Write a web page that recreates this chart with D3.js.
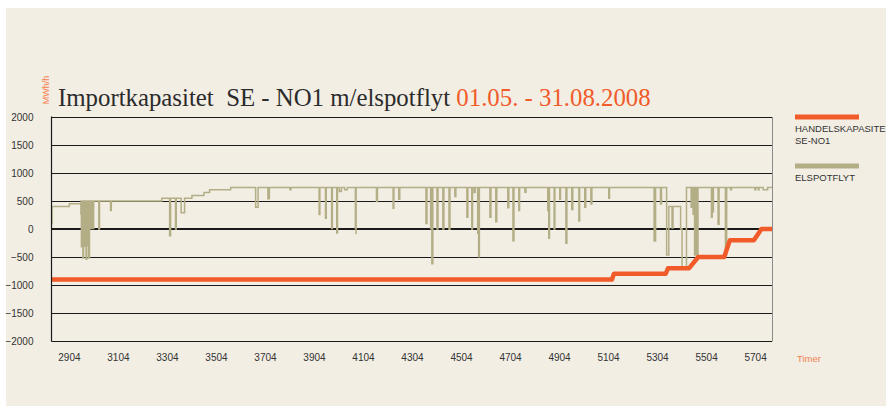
<!DOCTYPE html>
<html><head><meta charset="utf-8">
<script src="https://cdn.jsdelivr.net/npm/d3@7"></script>
<style>
html,body{margin:0;padding:0;background:#ffffff;}
svg{display:block;}
</style></head>
<body>
<svg id="chart" width="886" height="414"></svg>
<script>
// ---- data ----
const xTickValues = [2904, 3104, 3304, 3504, 3704, 3904, 4104, 4304, 4504, 4704, 4904, 5104, 5304, 5504, 5704];
const yTickValues = [2000, 1500, 1000, 500, 0, -500, -1000, -1500, -2000];
const hourRange = [2833, 5773];

// HANDELSKAPASITET SE-NO1 : [hour, MWh/h]
const capacityHours  = [2833, 5120, 5128, 5339, 5349, 5435, 5472, 5578, 5601, 5699, 5730, 5773];
const capacityValues = [-900, -900, -800, -800, -700, -700, -500, -500, -200, -200, 0, 0];

// ELSPOTFLYT base levels: [start hour, MWh/h]
const flowLevels = [
  [2833, 100], [2835, 400], [2906, 450], [2954, 500], [3283, 550], [3406, 600],
  [3455, 650], [3478, 700], [3564, 740],
  [5343, -464], [5352, 400], [5400, 0], [5406, -673], [5424, 740]
];
// ELSPOTFLYT short dips: [hour, MWh/h, duration hours]
const flowDips = [
  [2953, 270, 2], [2955, -330, 3], [2961, -520, 3], [2967, -310, 3], [2974, -540, 3], [2980, -290, 3], [2985, -520, 3],
  [2994, 10, 3], [3002, 10, 3], [3026, 0, 3], [3074, 330, 3],
  [3315, -120, 4], [3339, 0, 3], [3362, 290, 14],
  [3666, 390, 10], [3716, 540, 6], [3806, 700, 4],
  [3925, 260, 3], [3951, 190, 3], [3976, 10, 3], [3997, -70, 3], [4008, 670, 8], [4029, 700, 11],
  [4073, 10, 3], [4076, -95, 3], [4159, 490, 4], [4227, 370, 3], [4250, 530, 4],
  [4361, 100, 4], [4380, 10, 3], [4385, -620, 4], [4406, 0, 4], [4430, 0, 4], [4455, -5, 4],
  [4479, 580, 4], [4528, 210, 4], [4548, 0, 3], [4558, 650, 4], [4572, -77, 2], [4576, -495, 3],
  [4622, 210, 4], [4646, 130, 4], [4695, 380, 4], [4716, -210, 4], [4740, 330, 3], [4765, 655, 4],
  [4858, 330, 2], [4862, -166, 3], [4884, 0, 3], [4907, 530, 3], [4932, -255, 4], [4956, 350, 4],
  [4985, 143, 3], [5009, 390, 4], [5034, 446, 4], [5107, 548, 3],
  [5292, -214, 6], [5318, 446, 4], [5365, 20, 4],
  [5443, 388, 3], [5451, 262, 3], [5457, -464, 4], [5462, -300, 3], [5466, -464, 5],
  [5526, 210, 3], [5531, 310, 3], [5553, 84, 4], [5583, -464, 5], [5604, 700, 4],
  [5703, 700, 4], [5717, 700, 3], [5737, 700, 18]
];

const titleMain = "Importkapasitet  SE - NO1 m/elspotflyt";
const titleDate = "01.05. - 31.08.2008";
const unitLabel = "MWh/h";
const xAxisLabel = "Timer";
const legendItems = [
  {lines: ["HANDELSKAPASITET", "SE-NO1"], color: "#f15a29"},
  {lines: ["ELSPOTFLYT"], color: "#b3ae86"}
];

// ---- drawing ----
(function () {
const svg = d3.select("#chart");
const W = 886;
const bg = "#f2eee4";
const orange = "#f15a29";
const olive = "#b3ae86";

svg.append("rect").attr("x", 6).attr("y", 8).attr("width", W - 6).attr("height", 398).attr("fill", bg);

const pL = 51.5, pR = 772, pT = 117, pB = 341;
const x = d3.scaleLinear().domain(hourRange).range([pL, pR]);
const y = d3.scaleLinear().domain([-2000, 2000]).range([pB, pT]);

// grid lines
svg.append("g").selectAll("line").data(yTickValues).join("line")
  .attr("x1", pL).attr("x2", pR)
  .attr("y1", d => Math.round(y(d)) + (d === 0 ? 0 : 0.5))
  .attr("y2", d => Math.round(y(d)) + (d === 0 ? 0 : 0.5))
  .attr("stroke", "#1a1a1a")
  .attr("stroke-width", d => d === 0 ? 2 : 1);

// right border
svg.append("line").attr("x1", pR + 0.5).attr("x2", pR + 0.5).attr("y1", pT).attr("y2", pB + 0.5)
  .attr("stroke", "#8c8c8c").attr("stroke-width", 1);

// build elspot series
function levelAt(h) {
  let v = flowLevels[0][1];
  for (const [s, val] of flowLevels) if (s <= h) v = val;
  return v;
}
const flowPts = [];
flowLevels.forEach(([h, v]) => flowPts.push({h, v, o: 0}));
flowDips.forEach(([h, v, d]) => {
  flowPts.push({h, v, o: 1});
  flowPts.push({h: h + d, v: levelAt(h + d), o: 2});
});
flowPts.sort((a, b) => a.h - b.h || a.o - b.o);
flowPts.push({h: hourRange[1], v: levelAt(hourRange[1])});

svg.append("path")
  .datum(flowPts)
  .attr("fill", "none")
  .attr("stroke", olive)
  .attr("stroke-width", 1.5)
  .attr("d", d3.line().x(d => x(d.h)).y(d => y(d.v)).curve(d3.curveStepAfter));

// capacity line
const capData = capacityHours.map((h, i) => ({h, v: capacityValues[i]}));
svg.append("path")
  .datum(capData)
  .attr("fill", "none")
  .attr("stroke", orange)
  .attr("stroke-width", 4.5)
  .attr("stroke-linejoin", "round")
  .attr("d", d3.line().x(d => x(d.h)).y(d => y(d.v)));

// left axis line
svg.append("line").attr("x1", pL).attr("x2", pL).attr("y1", pT - 0.5).attr("y2", pB + 0.5)
  .attr("stroke", "#1a1a1a").attr("stroke-width", 1.2);

// axes labels
const yAxis = d3.axisLeft(y).tickValues(yTickValues).tickSize(0).tickPadding(18).tickFormat(d3.format("d"));
const gy = svg.append("g").attr("transform", `translate(${pL},0)`).call(yAxis);
gy.select(".domain").remove();
gy.selectAll("text").attr("font-family", "Liberation Sans, Arial, sans-serif").attr("font-size", 10).attr("fill", "#333");

const xAxis = d3.axisBottom(x).tickValues(xTickValues).tickSize(0).tickPadding(13).tickFormat(d3.format("d"));
const gx = svg.append("g").attr("transform", `translate(0,${pB})`).call(xAxis);
gx.select(".domain").remove();
gx.selectAll("text").attr("font-family", "Liberation Sans, Arial, sans-serif").attr("font-size", 10).attr("fill", "#333");

svg.append("text").attr("x", 797).attr("y", 361.5)
  .attr("font-family", "Liberation Sans, Arial, sans-serif").attr("font-size", 9.5)
  .attr("fill", "#f4804f").text(xAxisLabel);

// unit label (rotated)
svg.append("text")
  .attr("transform", "translate(49,90) rotate(-90)")
  .attr("text-anchor", "middle")
  .attr("font-family", "Liberation Sans, Arial, sans-serif").attr("font-size", 9)
  .attr("fill", "#f4804f").text(unitLabel);

// title
const title = svg.append("text").attr("x", 58).attr("y", 106)
  .attr("font-family", "Liberation Serif, Times New Roman, serif").attr("font-size", 22)
  .attr("fill", "#2b2b2b").style("white-space", "pre");
title.append("tspan").text(titleMain + " ");
title.append("tspan").attr("fill", orange).text(titleDate);
const tl = title.node().getComputedTextLength();
title.attr("font-size", 22 * 593 / tl);

// legend
const legY = [117, 166];
legendItems.forEach((it, i) => {
  svg.append("rect").attr("x", 795).attr("y", legY[i] - 2.5).attr("width", 64).attr("height", 5).attr("fill", it.color);
  it.lines.forEach((ln, j) => {
    svg.append("text").attr("x", 795).attr("y", legY[i] + 15 + j * 12.3)
      .attr("font-family", "Liberation Sans, Arial, sans-serif").attr("font-size", 9.5)
      .attr("fill", "#333").text(ln);
  });
});
})();
</script>
</body></html>
